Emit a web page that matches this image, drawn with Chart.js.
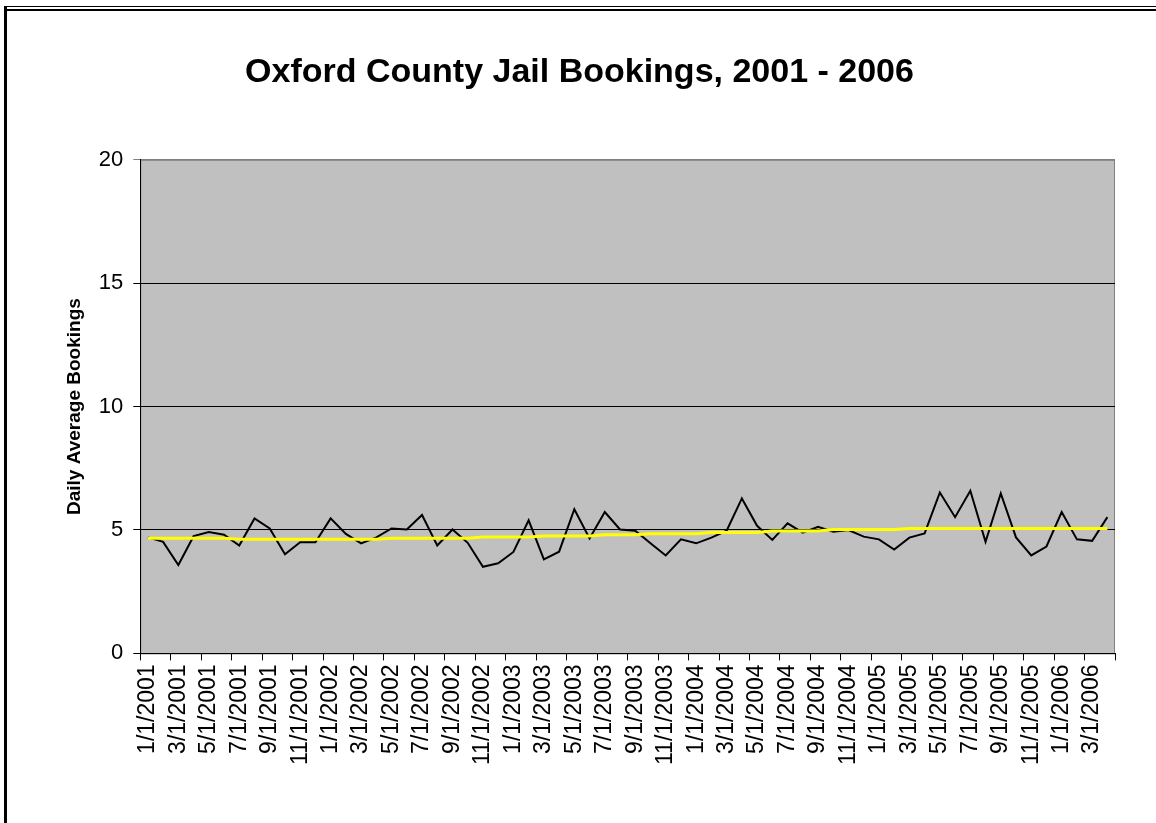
<!DOCTYPE html>
<html>
<head>
<meta charset="utf-8">
<script src="https://cdn.jsdelivr.net/npm/chart.js@4/dist/chart.umd.min.js"></script>
<style>
  body { margin: 0; background: #fff; }
  #wrap { position: relative; width: 1156px; height: 823px; }
  #frame1 { position: absolute; left: 4px; top: 6px; right: 0; bottom: 0; border-top: 1px solid #000; border-left: 3px solid #000; }
  #frame2 { position: absolute; left: 7px; top: 9px; right: 0; height: 0; border-top: 2px solid #000; }
  canvas { position: absolute; left: 0; top: 0; }
</style>
</head>
<body>
<div id="wrap">
  <canvas id="grafico" width="1156" height="823"></canvas>
  <div id="frame1"></div>
  <div id="frame2"></div>
</div>
<script>
// meses (1/1/2001 ... 4/1/2006)
const meses = [
  "1/1/2001", "2/1/2001", "3/1/2001", "4/1/2001", "5/1/2001", "6/1/2001", "7/1/2001", "8/1/2001", "9/1/2001", "10/1/2001", "11/1/2001", "12/1/2001",
  "1/1/2002", "2/1/2002", "3/1/2002", "4/1/2002", "5/1/2002", "6/1/2002", "7/1/2002", "8/1/2002", "9/1/2002", "10/1/2002", "11/1/2002", "12/1/2002",
  "1/1/2003", "2/1/2003", "3/1/2003", "4/1/2003", "5/1/2003", "6/1/2003", "7/1/2003", "8/1/2003", "9/1/2003", "10/1/2003", "11/1/2003", "12/1/2003",
  "1/1/2004", "2/1/2004", "3/1/2004", "4/1/2004", "5/1/2004", "6/1/2004", "7/1/2004", "8/1/2004", "9/1/2004", "10/1/2004", "11/1/2004", "12/1/2004",
  "1/1/2005", "2/1/2005", "3/1/2005", "4/1/2005", "5/1/2005", "6/1/2005", "7/1/2005", "8/1/2005", "9/1/2005", "10/1/2005", "11/1/2005", "12/1/2005",
  "1/1/2006", "2/1/2006", "3/1/2006", "4/1/2006"
];

// media diaria de entradas
const reservas = [
  4.70, 4.52, 3.58, 4.75, 4.92, 4.81, 4.37, 5.47, 5.06, 4.02, 4.50, 4.50,
  5.47, 4.84, 4.46, 4.70, 5.06, 5.02, 5.61, 4.37, 5.02, 4.48, 3.51, 3.65,
  4.11, 5.39, 3.81, 4.12, 5.84, 4.66, 5.73, 5.02, 4.97, 4.46, 3.97, 4.62,
  4.46, 4.69, 4.97, 6.28, 5.17, 4.60, 5.27, 4.89, 5.13, 4.93, 5.00, 4.73,
  4.62, 4.21, 4.69, 4.86, 6.52, 5.52, 6.59, 4.52, 6.48, 4.70, 3.97, 4.33,
  5.73, 4.62, 4.56, 5.52
];

// linha de tendencia (amarela)
const tendencia = [
  4.67, 4.67, 4.67, 4.67, 4.67, 4.67, 4.62, 4.62, 4.62, 4.62, 4.62, 4.62,
  4.62, 4.62, 4.62, 4.62, 4.67, 4.67, 4.67, 4.67, 4.67, 4.67, 4.72, 4.72,
  4.72, 4.72, 4.76, 4.76, 4.76, 4.76, 4.81, 4.81, 4.81, 4.85, 4.85, 4.85,
  4.85, 4.90, 4.90, 4.90, 4.90, 4.96, 4.96, 4.96, 4.96, 5.02, 5.02, 5.02,
  5.02, 5.02, 5.06, 5.06, 5.06, 5.06, 5.06, 5.06, 5.06, 5.06, 5.06, 5.06,
  5.06, 5.06, 5.06, 5.06
];

const ticksY = [0, 5, 10, 15, 20];

// fundo cinza da area do grafico
const fundoPlot = {
  id: "fundoPlot",
  beforeDraw(chart) {
    const { ctx, chartArea: a } = chart;
    ctx.save();
    ctx.fillStyle = "#c0c0c0";
    ctx.fillRect(a.left, a.top, a.right - a.left, a.bottom - a.top);
    ctx.strokeStyle = "#808080";
    ctx.lineWidth = 1;
    ctx.strokeRect(a.left + 0.5, a.top + 0.5, a.right - a.left - 1, a.bottom - a.top);
    ctx.restore();
  }
};

const fonte = "'Liberation Sans', Arial, sans-serif";

new Chart(document.getElementById("grafico"), {
  type: "line",
  data: {
    labels: meses,
    datasets: [
      {
        label: "Tendência",
        data: tendencia,
        borderColor: "#ffff00",
        borderWidth: 3,
        pointRadius: 0,
        tension: 0,
        order: 0
      },
      {
        label: "Bookings",
        data: reservas,
        borderColor: "#000000",
        borderWidth: 2,
        pointRadius: 0,
        tension: 0,
        order: 1
      }
    ]
  },
  options: {
    responsive: false,
    animation: false,
    layout: { padding: { left: 44, right: 41, top: 0, bottom: 54 } },
    plugins: {
      legend: { display: false },
      tooltip: { enabled: false },
      title: {
        display: true,
        text: "Oxford County Jail Bookings, 2001 - 2006",
        color: "#000",
        font: { family: fonte, size: 34, weight: "bold" },
        padding: { top: 52, bottom: 67 }
      }
    },
    scales: {
      x: {
        offset: true,
        grid: {
          offset: true,
          drawOnChartArea: false,
          tickLength: 7,
          color: ctx => (ctx.index === undefined || ctx.index % 2 === 0) ? "#000" : "rgba(0,0,0,0)"
        },
        border: { color: "#000", width: 1 },
        ticks: {
          autoSkip: false,
          maxRotation: 90,
          minRotation: 90,
          padding: 4,
          color: "#000",
          font: { family: fonte, size: 23 },
          callback: function (v, i) { return i % 2 === 0 ? this.getLabelForValue(v) : ""; }
        }
      },
      y: {
        min: 0,
        max: 20,
        afterBuildTicks: s => { s.ticks = ticksY.map(v => ({ value: v })); },
        grid: {
          tickLength: 7,
          color: ctx => ctx.tick && ctx.tick.value === 20 ? "#808080" : "#000"
        },
        border: { color: "#000", width: 1 },
        ticks: {
          padding: 10,
          color: "#000",
          font: { family: fonte, size: 22 }
        },
        title: {
          display: true,
          text: "Daily Average Bookings",
          color: "#000",
          font: { family: fonte, size: 19, weight: "bold" },
          padding: { top: 19, bottom: 3 }
        }
      }
    }
  },
  plugins: [fundoPlot]
});
</script>
</body>
</html>
